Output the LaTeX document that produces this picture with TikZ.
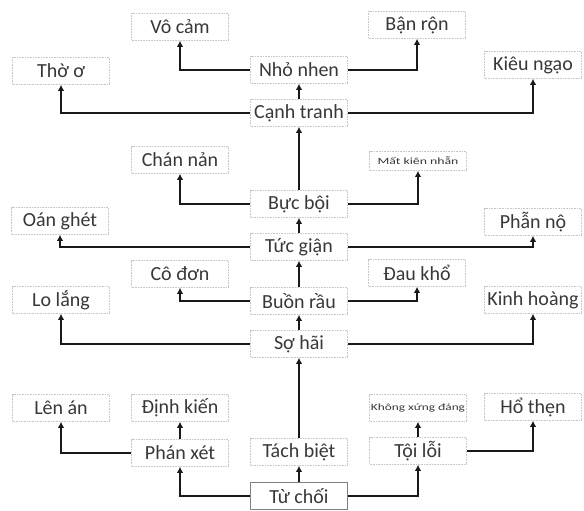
\documentclass[tikz,border=0pt]{standalone}
\usepackage{fontspec}
\setmainfont{Carlito}
\usetikzlibrary{arrows.meta}
\begin{document}
\begin{tikzpicture}[x=1pt,y=-1pt,
  box/.style={draw=black!22, densely dotted, line width=0.6pt, minimum width=97pt, minimum height=27pt, inner sep=1pt, text=black!78, font=\fontsize{20}{22}\selectfont},
  mainbox/.style={box, draw=black!50, solid, line width=0.8pt},
  smallbox/.style={box, font=\fontsize{9.5}{11}\selectfont},
  arr/.style={draw=black!90, line width=2.8pt, -{Latex[length=6pt,width=6.5pt]}}
]
\useasboundingbox[fill=white] (0,0) rectangle (584,511);
% top
\node[box] (vocam) at (180,27) {Vô cảm};
\node[box] (banron) at (417,25) {Bận rộn};
\node[box] (thoo) at (61,71) {Thờ ơ};
\node[box] (nho) at (299,70) {Nhỏ nhen};
\node[box] (kieu) at (533,65) {Kiêu ngạo};
\node[box] (canh) at (299,113) {Cạnh tranh};
\node[box] (chan) at (180,160) {Chán nản};
\node[smallbox, minimum height=19pt] (mat) at (418,161) {\scalebox{1.45}[1]{Mất kiên nhẫn}};
\node[box] (bucboi) at (299,204) {Bực bội};
\node[box] (oan) at (60,221) {Oán ghét};
\node[box] (phan) at (533,222) {Phẫn nộ};
\node[box] (tuc) at (299,247) {Tức giận};
\node[box] (codon) at (180,274) {Cô đơn};
\node[box] (daukho) at (417,273) {Đau khổ};
\node[box] (buon) at (299,301) {Buồn rầu};
\node[box] (lolang) at (61,300) {Lo lắng};
\node[box] (kinh) at (533,300) {Kinh hoàng};
\node[box] (sohai) at (299,344) {Sợ hãi};
\node[box] (lenan) at (61,408) {Lên án};
\node[box] (dinhkien) at (180,408) {Định kiến};
\node[smallbox] (khong) at (418,408) {\scalebox{1.4}[1]{Không xứng đáng}};
\node[box] (hothen) at (533,407) {Hổ thẹn};
\node[box] (phanxet) at (180,453) {Phán xét};
\node[box] (tachbiet) at (299,452) {Tách biệt};
\node[box] (toiloi) at (418,451) {Tội lỗi};
\node[mainbox] (tuchoi) at (299,496) {Từ chối};
% connectors
\draw[arr] (tuchoi.west) -| (phanxet.south);
\draw[arr] (tuchoi.east) -| (toiloi.south);
\draw[arr] (tuchoi.north) -- (tachbiet.south);
\draw[arr] (phanxet.west) -| (lenan.south);
\draw[arr] (phanxet.north) -- (dinhkien.south);
\draw[arr] (toiloi.north) -- (khong.south);
\draw[arr] (toiloi.east) -| (hothen.south);
\draw[arr] (tachbiet.north) -- (sohai.south);
\draw[arr] (sohai.west) -| (lolang.south);
\draw[arr] (sohai.east) -| (kinh.south);
\draw[arr] (sohai.north) -- (buon.south);
\draw[arr] (buon.west) -| (codon.south);
\draw[arr] (buon.east) -| (daukho.south);
\draw[arr] (buon.north) -- (tuc.south);
\draw[arr] (tuc.west) -| (oan.south);
\draw[arr] (tuc.east) -| (phan.south);
\draw[arr] (tuc.north) -- (bucboi.south);
\draw[arr] (bucboi.west) -| (chan.south);
\draw[arr] (bucboi.east) -| (mat.south);
\draw[arr] (bucboi.north) -- (canh.south);
\draw[arr] (canh.west) -| (thoo.south);
\draw[arr] (canh.east) -| (kieu.south);
\draw[arr] (canh.north) -- (nho.south);
\draw[arr] (nho.west) -| (vocam.south);
\draw[arr] (nho.east) -| (banron.south);
\end{tikzpicture}
\end{document}
